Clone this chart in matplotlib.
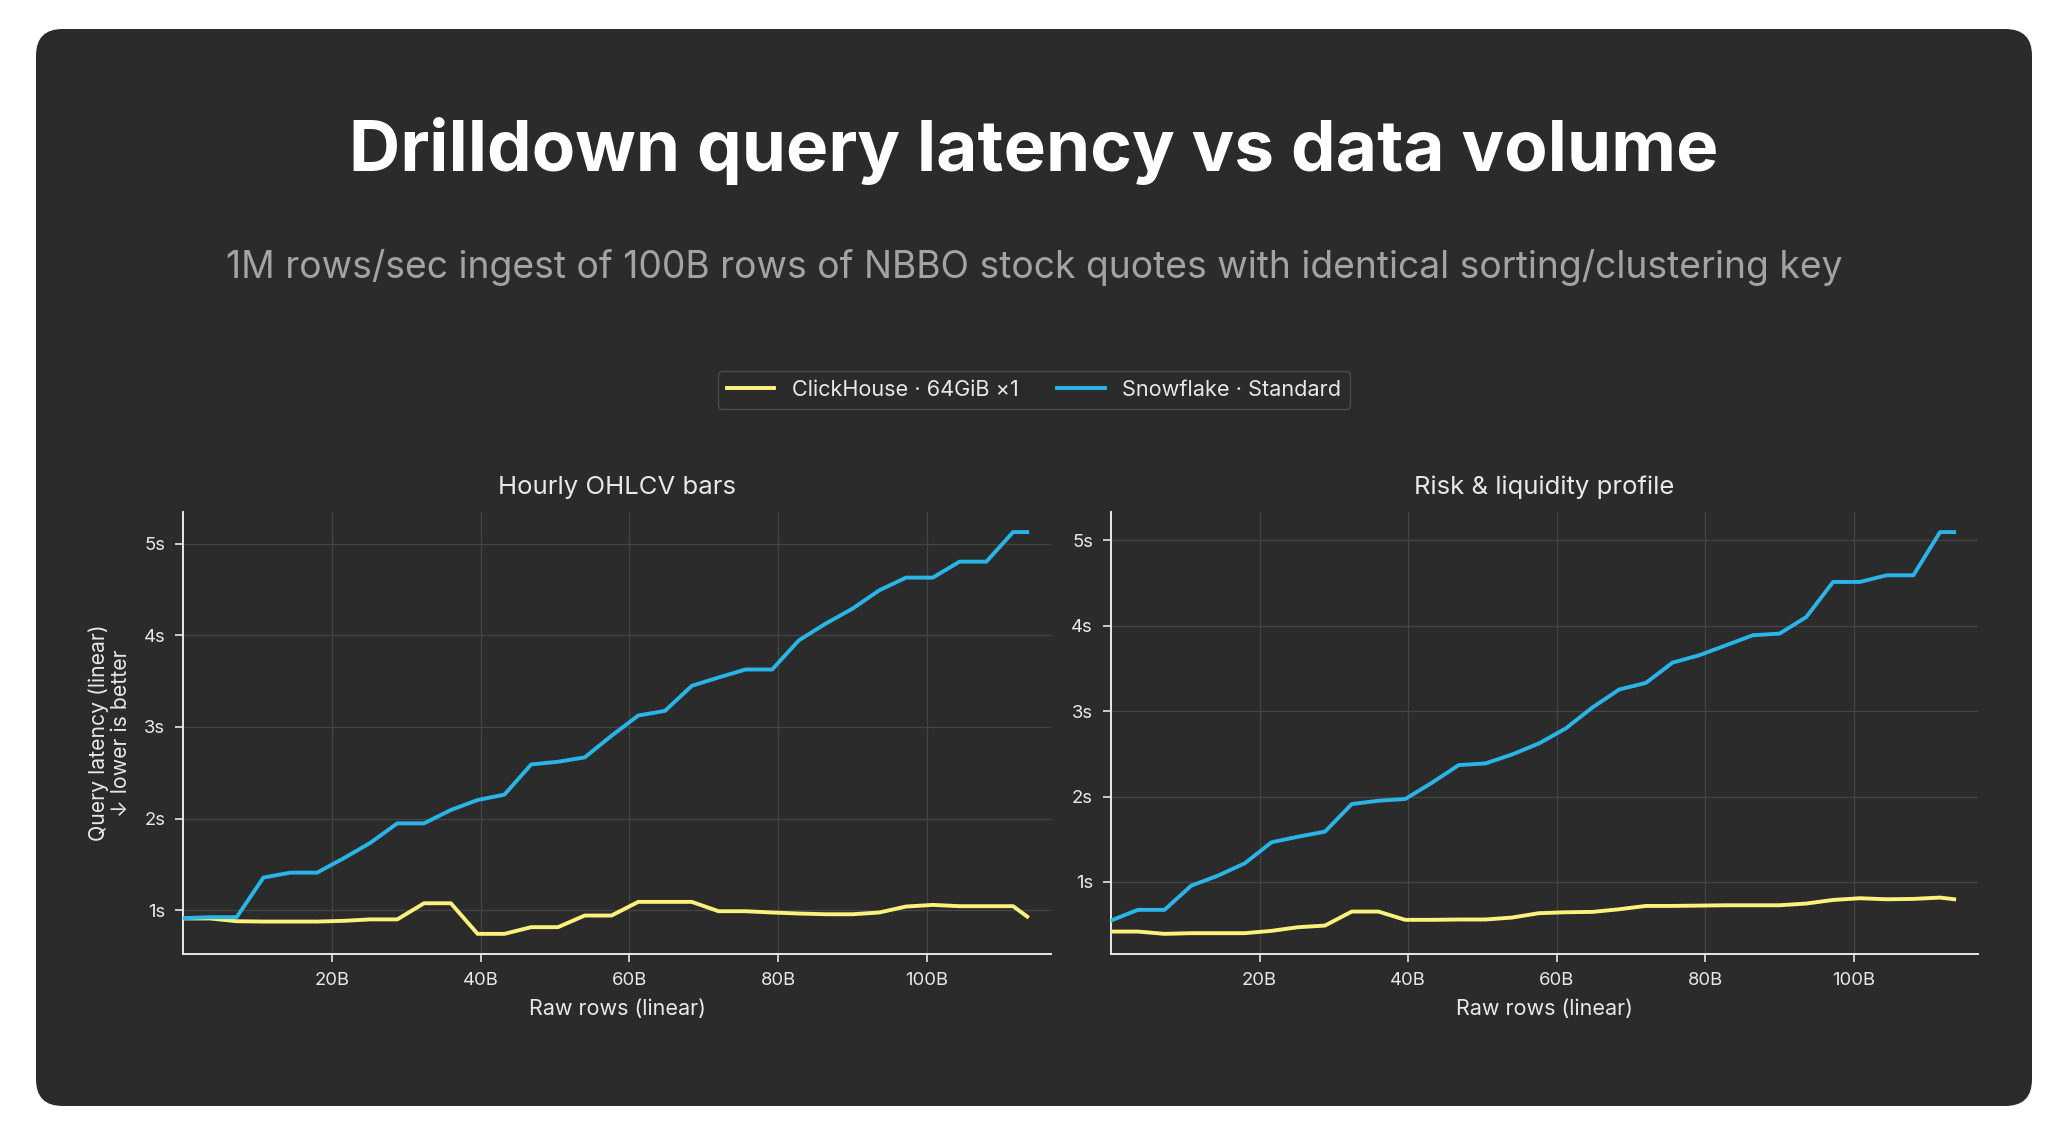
import matplotlib.pyplot as plt
from matplotlib.patches import FancyBboxPatch
from matplotlib.ticker import FuncFormatter

plt.rcParams['font.family'] = ['Inter', 'DejaVu Sans']

# raw rows ingested (billions), one sample per hour at 1M rows/sec
rows_b = [0, 3.6, 7.2, 10.8, 14.4, 18.0, 21.6, 25.2, 28.8, 32.4, 36.0, 39.6,
          43.2, 46.8, 50.4, 54.0, 57.6, 61.2, 64.8, 68.4, 72.0, 75.6, 79.2,
          82.8, 86.4, 90.0, 93.6, 97.2, 100.8, 104.4, 108.0, 111.6, 113.5]

# latency in seconds
ohlcv_ch = [0.91, 0.91, 0.88, 0.876, 0.876, 0.876, 0.884, 0.90, 0.90, 1.076, 1.076,
            0.742, 0.742, 0.815, 0.815, 0.942, 0.942, 1.091, 1.091, 1.091, 0.989,
            0.989, 0.975, 0.964, 0.956, 0.956, 0.975, 1.04, 1.058, 1.044, 1.044,
            1.044, 0.93]
ohlcv_sf = [0.913, 0.924, 0.924, 1.356, 1.41, 1.41, 1.567, 1.737, 1.948, 1.948, 2.094,
            2.203, 2.261, 2.591, 2.62, 2.668, 2.904, 3.125, 3.176, 3.449, 3.54,
            3.627, 3.627, 3.946, 4.128, 4.291, 4.491, 4.63, 4.63, 4.804, 4.804,
            5.127, 5.127]
risk_ch = [0.419, 0.419, 0.392, 0.40, 0.40, 0.40, 0.427, 0.47, 0.489, 0.653, 0.653,
           0.556, 0.556, 0.56, 0.56, 0.583, 0.634, 0.645, 0.649, 0.68, 0.719,
           0.719, 0.723, 0.727, 0.727, 0.727, 0.747, 0.789, 0.809, 0.797, 0.801,
           0.817, 0.797]
risk_sf = [0.548, 0.673, 0.673, 0.957, 1.074, 1.218, 1.464, 1.53, 1.589, 1.912, 1.951,
           1.971, 2.162, 2.368, 2.388, 2.493, 2.622, 2.797, 3.043, 3.253, 3.331,
           3.569, 3.655, 3.772, 3.889, 3.908, 4.103, 4.513, 4.513, 4.591, 4.591,
           5.097, 5.097]

panels = [('Hourly OHLCV bars', ohlcv_ch, ohlcv_sf),
          ('Risk & liquidity profile', risk_ch, risk_sf)]
series_names = ['ClickHouse · 64GiB ×1', 'Snowflake · Standard']
x_ticks = [20, 40, 60, 80, 100]
y_ticks = [1, 2, 3, 4, 5]

card = '#2b2b2b'
yellow = '#fbf27c'
blue = '#2ab5e8'
fg = '#e8e8e8'

fig = plt.figure(figsize=(20.48, 11.37), dpi=100, facecolor='white')
fig.patches.append(FancyBboxPatch((36 / 2048, 1 - 1106 / 1137), 1996 / 2048, 1077 / 1137,
                                  boxstyle='round,pad=0,rounding_size=0.013',
                                  transform=fig.transFigure, facecolor=card,
                                  edgecolor='none', mutation_aspect=2048 / 1137,
                                  zorder=-10))

cx = 1034 / 2048  # centre of the card
fig.text(cx, 0.8496, 'Drilldown query latency vs data volume', ha='center', va='baseline',
         fontsize=51.2, fontweight='bold', color='white')
fig.text(cx, 0.7555, '1M rows/sec ingest of 100B rows of NBBO stock quotes with identical sorting/clustering key',
         ha='center', va='baseline', fontsize=26.8, color='#a3a3a3')

axes = [fig.add_axes([0.0894, 0.1610, 0.4238, 0.3887]),
        fig.add_axes([0.5425, 0.1610, 0.4233, 0.3887])]

for ax, (title, ch, sf) in zip(axes, panels):
    ax.set_facecolor(card)
    ax.plot(rows_b, ch, color=yellow, lw=2.8, label=series_names[0], zorder=3)
    ax.plot(rows_b, sf, color=blue, lw=2.8, label=series_names[1], zorder=3)
    ax.set_xlim(0, 116.7)
    ax.set_xticks(x_ticks)
    ax.set_xticklabels([f'{t}B' for t in x_ticks])
    ax.set_yticks(y_ticks)
    ax.yaxis.set_major_formatter(FuncFormatter(lambda v, p: f'{int(v)}s'))
    ax.grid(True, color='#444444', lw=0.9)
    ax.set_axisbelow(True)
    for s in ['top', 'right']:
        ax.spines[s].set_visible(False)
    for s in ['left', 'bottom']:
        ax.spines[s].set_color(fg)
        ax.spines[s].set_linewidth(1.4)
    ax.tick_params(colors=fg, labelsize=13.3, length=6, width=1.2, pad=7)
    ax.set_title(title, color=fg, fontsize=18.5, pad=13)
    ax.set_xlabel('Raw rows (linear)', color=fg, fontsize=15.5, labelpad=7)

axes[0].set_ylabel('Query latency (linear)\n↓ lower is better', color=fg, fontsize=15.3,
                   labelpad=9, linespacing=1.12)

leg = fig.legend(handles=axes[0].get_lines(), loc='center', bbox_to_anchor=(cx, 0.657),
                 ncol=2, frameon=True, fontsize=15.6, handlelength=2.2, columnspacing=1.8,
                 borderpad=0.4, borderaxespad=0)
leg.get_frame().set_facecolor(card)
leg.get_frame().set_edgecolor('#555555')
for t in leg.get_texts():
    t.set_color(fg)

plt.savefig('out.png', dpi=100, facecolor='white')
